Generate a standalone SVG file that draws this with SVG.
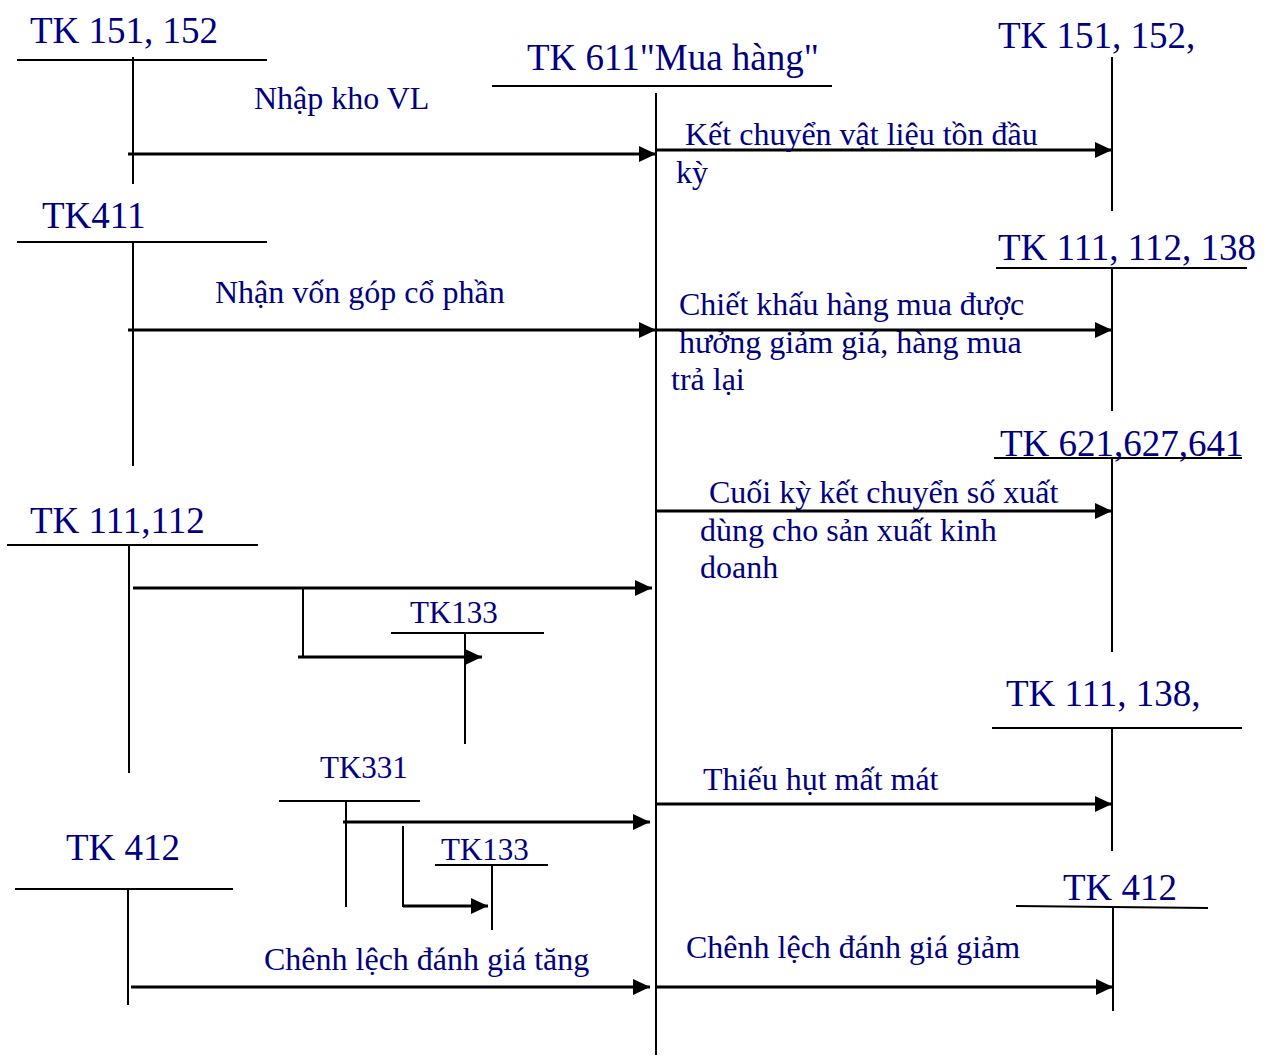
<svg xmlns="http://www.w3.org/2000/svg" width="1265" height="1057" viewBox="0 0 1265 1057">
<style>
text{font-family:"Liberation Serif","Times New Roman",serif;fill:#000080}
.big{font-size:37px}
.sm{font-size:32px}
.tk{font-size:31px}
.ln{stroke:#000;stroke-width:2;fill:none}
.ar{stroke:#000;stroke-width:3;fill:none;marker-end:url(#ah)}
</style>
<defs>
<marker id="ah" markerUnits="userSpaceOnUse" markerWidth="18" markerHeight="16" refX="17" refY="8" orient="auto">
<path d="M0,0 L17,8 L0,16 Z" fill="#000"/>
</marker>
</defs>
<rect width="1265" height="1057" fill="#fff"/>

<g id="tk151-left">
<text class="big" x="30" y="43">TK 151, 152</text>
<line class="ln" x1="17" y1="60" x2="267" y2="60"/>
<line class="ln" x1="133" y1="57" x2="133" y2="184"/>
</g>
<g id="tk411">
<text class="big" x="42" y="228">TK411</text>
<line class="ln" x1="17" y1="242" x2="267" y2="242"/>
<line class="ln" x1="133" y1="242" x2="133" y2="466"/>
</g>
<g id="tk111-left">
<text class="big" x="30" y="533">TK 111,112</text>
<line class="ln" x1="7" y1="545" x2="258" y2="545"/>
<line class="ln" x1="129" y1="545" x2="129" y2="773"/>
</g>
<g id="tk133-a">
<text class="tk" x="410" y="623">TK133</text>
<line class="ln" x1="391" y1="633" x2="544" y2="633"/>
<line class="ln" x1="465" y1="633" x2="465" y2="744"/>
</g>
<g id="tk331">
<text class="tk" x="320" y="778">TK331</text>
<line class="ln" x1="279" y1="801" x2="420" y2="801"/>
<line class="ln" x1="346" y1="801" x2="346" y2="907"/>
</g>
<g id="tk133-b">
<text class="tk" x="441" y="860">TK133</text>
<line class="ln" x1="435" y1="865" x2="548" y2="865"/>
<line class="ln" x1="492" y1="866" x2="492" y2="930"/>
</g>
<g id="tk412-left">
<text class="big" x="66" y="860">TK 412</text>
<line class="ln" x1="15" y1="889" x2="233" y2="889"/>
<line class="ln" x1="128" y1="889" x2="128" y2="1005"/>
</g>
<g id="tk611">
<text class="big" x="527" y="70">TK 611"Mua hàng"</text>
<line class="ln" x1="492" y1="86" x2="832" y2="86"/>
<line class="ln" x1="656" y1="93" x2="656" y2="1055"/>
</g>
<g id="tk151-right">
<text class="big" x="998" y="48">TK 151, 152,</text>
<line class="ln" x1="1112" y1="57" x2="1112" y2="211"/>
</g>
<g id="tk111-right">
<text class="big" x="998" y="260">TK 111, 112, 138</text>
<line class="ln" x1="996" y1="268" x2="1247" y2="268"/>
<line class="ln" x1="1112" y1="268" x2="1112" y2="411"/>
</g>
<g id="tk621">
<text class="big" x="1000" y="456">TK 621,627,641</text>
<line class="ln" x1="994" y1="458" x2="1242" y2="458"/>
<line class="ln" x1="1112" y1="458" x2="1112" y2="652"/>
</g>
<g id="tk111-138">
<text class="big" x="1006" y="706">TK 111, 138,</text>
<line class="ln" x1="992" y1="728" x2="1242" y2="728"/>
<line class="ln" x1="1112" y1="728" x2="1112" y2="851"/>
</g>
<g id="tk412-right">
<text class="big" x="1063" y="900">TK 412</text>
<line class="ln" x1="1016" y1="906" x2="1208" y2="908"/>
<line class="ln" x1="1113" y1="908" x2="1113" y2="1011"/>
</g>

<g id="connectors">
<line class="ar" x1="128" y1="154" x2="656" y2="154"/>
<line class="ar" x1="128" y1="330" x2="656" y2="330"/>
<line class="ar" x1="133" y1="588" x2="652" y2="588"/>
<line class="ln" x1="303" y1="588" x2="303" y2="657"/>
<line class="ar" x1="298" y1="657" x2="482" y2="657"/>
<line class="ar" x1="343" y1="822" x2="650" y2="822"/>
<line class="ln" x1="403" y1="826" x2="403" y2="907"/>
<line class="ar" x1="403" y1="906" x2="488" y2="906"/>
<line class="ar" x1="131" y1="987" x2="650" y2="987"/>
<line class="ar" x1="656" y1="150" x2="1112" y2="150"/>
<line class="ar" x1="656" y1="330" x2="1112" y2="330"/>
<line class="ar" x1="656" y1="511" x2="1112" y2="511"/>
<line class="ar" x1="656" y1="804" x2="1112" y2="804"/>
<line class="ar" x1="656" y1="987" x2="1113" y2="987"/>
</g>

<g id="labels">
<text class="sm" x="254" y="109">Nhập kho VL</text>
<text class="sm" x="215" y="303">Nhận vốn góp cổ phần</text>
<text class="sm" x="264" y="970">Chênh lệch đánh giá tăng</text>
<text class="sm" x="685" y="145">Kết chuyển vật liệu tồn đầu</text>
<text class="sm" x="676" y="183">kỳ</text>
<text class="sm" x="679" y="315">Chiết khấu hàng mua được</text>
<text class="sm" x="679" y="353">hưởng giảm giá, hàng mua</text>
<text class="sm" x="671" y="390">trả lại</text>
<text class="sm" x="709" y="503">Cuối kỳ kết chuyển số xuất</text>
<text class="sm" x="700" y="541">dùng cho sản xuất kinh</text>
<text class="sm" x="700" y="578">doanh</text>
<text class="sm" x="703" y="790">Thiếu hụt mất mát</text>
<text class="sm" x="686" y="958">Chênh lệch đánh giá giảm</text>
</g>
</svg>
